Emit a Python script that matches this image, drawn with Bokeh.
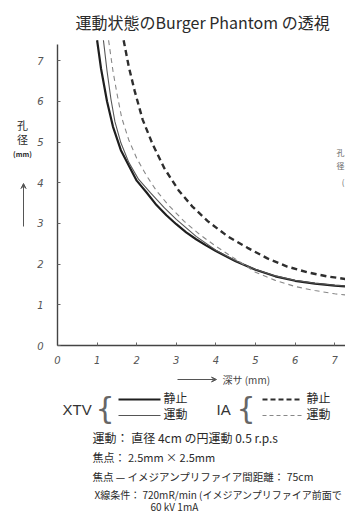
from bokeh.plotting import figure
from bokeh.models import Range1d, LinearAxis, FixedTicker, Arrow, VeeHead
from bokeh.core.properties import value
from bokeh.embed import file_html
from bokeh.resources import INLINE

# depth (mm) -> resolvable hole diameter (mm), Burger phantom under motion
xtv_static_x = [1.00, 1.10, 1.25, 1.40, 1.60, 1.80, 2.00, 2.25, 2.50, 2.75, 3.00, 3.25,
                3.50, 3.75, 4.00, 4.50, 5.00, 5.50, 6.00, 6.50, 7.00, 7.30]
xtv_static_y = [7.50, 6.80, 6.00, 5.38, 4.80, 4.42, 4.05, 3.76, 3.45, 3.20, 2.98, 2.78,
                2.61, 2.46, 2.32, 2.07, 1.86, 1.70, 1.59, 1.52, 1.47, 1.45]

xtv_motion_x = [1.16, 1.25, 1.35, 1.45, 1.60, 1.80, 2.05, 2.35, 2.70, 3.00, 3.50, 4.00,
                4.50, 5.00, 5.50, 6.00, 6.50, 7.00, 7.30]
xtv_motion_y = [7.50, 6.75, 6.05, 5.50, 4.98, 4.50, 4.08, 3.75, 3.38, 3.10, 2.68, 2.34,
                2.08, 1.87, 1.71, 1.60, 1.53, 1.48, 1.46]

ia_static_x = [1.67, 1.80, 1.95, 2.15, 2.40, 2.70, 3.06, 3.40, 3.80, 4.30, 4.80, 5.30,
               5.80, 6.30, 6.80, 7.30]
ia_static_y = [7.50, 6.85, 6.25, 5.55, 4.95, 4.35, 3.81, 3.42, 3.05, 2.68, 2.40, 2.14,
               1.94, 1.80, 1.70, 1.63]

ia_motion_x = [1.29, 1.40, 1.50, 1.62, 1.80, 2.00, 2.25, 2.50, 2.80, 3.20, 3.60, 4.00,
               4.50, 5.00, 5.50, 6.00, 6.50, 7.00, 7.30]
ia_motion_y = [7.50, 6.75, 6.20, 5.60, 5.05, 4.60, 4.17, 3.80, 3.45, 3.05, 2.72, 2.44,
               2.12, 1.80, 1.60, 1.45, 1.35, 1.27, 1.24]

x_ticks = [0, 1, 2, 3, 4, 5, 6, 7]
y_ticks = [0, 1, 2, 3, 4, 5, 6, 7]

JP = "Noto Sans CJK JP"
INK = "#2a2a2a"

W, H = 345, 513
X0, Y0 = 57, 345          # canvas pixel of the origin
SX, SY = 39.6, 40.7       # pixels per mm


def dx(px):
    return (px - X0) / SX


def dy(py):
    return (Y0 - py) / SY


p = figure(width=W, height=H, x_range=Range1d(dx(0), dx(W)), y_range=Range1d(dy(H), dy(0)),
           x_axis_type=None, y_axis_type=None, toolbar_location=None,
           output_backend="svg", min_border=0)
p.outline_line_color = None
p.background_fill_color = "white"

# axes crossing at the origin
yax = LinearAxis(fixed_location=0, bounds=(0, 7.4), ticker=FixedTicker(ticks=y_ticks))
xax = LinearAxis(fixed_location=0, bounds=(0, 7.3), ticker=FixedTicker(ticks=x_ticks))
for ax, standoff in ((yax, 14), (xax, 10)):
    ax.axis_line_color = "#444"
    ax.axis_line_width = 1.4
    ax.major_tick_in = 3
    ax.major_tick_out = 0
    ax.major_tick_line_color = "#666"
    ax.minor_tick_line_color = None
    ax.major_label_text_font = "DejaVu Sans"
    ax.major_label_text_font_style = "italic"
    ax.major_label_text_font_size = "10px"
    ax.major_label_text_color = "#555"
    ax.major_label_standoff = standoff
p.add_layout(yax, "left")
p.add_layout(xax, "below")

# curves
p.line(xtv_static_x, xtv_static_y, line_color="#1e1e1e", line_width=2.2)
p.line(xtv_motion_x, xtv_motion_y, line_color="#555", line_width=1.1)
p.line(ia_static_x, ia_static_y, line_color="#2e2e2e", line_width=2.4, line_dash="6 4")
p.line(ia_motion_x, ia_motion_y, line_color="#888", line_width=1.1, line_dash="5 4")


def label(px, py, txt, size, align="left", font=JP, style="normal", color=INK):
    p.text(x=[dx(px)], y=[dy(py)], text=[txt], text_font=value(font),
           text_font_size=value(f"{size}px"), text_font_style=style,
           text_align=align, text_baseline="middle", text_color=color)


# title
label(75, 21, "運動状態のBurger Phantom の透視", 16)

# y axis caption with arrow
label(22, 124, "孔", 11, "center")
label(22, 138, "径", 11, "center")
label(22, 153, "(mm)", 7, "center", style="bold")
p.add_layout(Arrow(x_start=dx(23), y_start=dy(226), x_end=dx(23), y_end=dy(183),
                   line_color="#555", line_width=1,
                   end=VeeHead(size=5, line_color="#555", fill_color="#555")))

# x axis caption with arrow
p.add_layout(Arrow(x_start=dx(177), y_start=dy(379), x_end=dx(216), y_end=dy(379),
                   line_color="#555", line_width=1,
                   end=VeeHead(size=5, line_color="#555", fill_color="#555")))
label(222, 379, "深サ (mm)", 10, color="#444")

# neighbouring caption at the right edge
label(344, 152, "孔", 8, "right", color="#666")
label(344, 165, "径", 8, "right", color="#666")
label(344, 181, "(", 8, "right", color="#666")

# legend
label(62, 409, "XTV", 15, font="Liberation Sans", color="#333")
label(95, 408, "{", 30, font="DejaVu Sans", color="#666")
p.line([dx(118), dx(160)], [dy(399), dy(399)], line_color="#1e1e1e", line_width=2.2)
p.line([dx(118), dx(160)], [dy(415), dy(415)], line_color="#555", line_width=1.1)
label(163, 397, "静止", 12)
label(163, 413, "運動", 12)

label(216, 409, "IA", 15, font="Liberation Sans", color="#333")
label(236, 408, "{", 30, font="DejaVu Sans", color="#666")
p.line([dx(262), dx(302)], [dy(399), dy(399)], line_color="#2e2e2e", line_width=2.2,
       line_dash="5 3")
p.line([dx(262), dx(302)], [dy(415), dy(415)], line_color="#888", line_width=1.1,
       line_dash="4 3")
label(306, 397, "静止", 12)
label(306, 413, "運動", 12)

# conditions
label(92, 437, "運動： 直径 4cm の円運動   0.5 r.p.s", 12)
label(92, 456, "焦点： 2.5mm × 2.5mm", 11)
label(92, 476, "焦点 — イメジアンプリファイア間距離： 75cm", 10.5)
label(94, 494, "X線条件： 720mR/min (イメジアンプリファイア前面で", 10)
label(150, 506, "60 kV  1mA", 10)

open("out.html", "w").write(file_html(p, INLINE))
